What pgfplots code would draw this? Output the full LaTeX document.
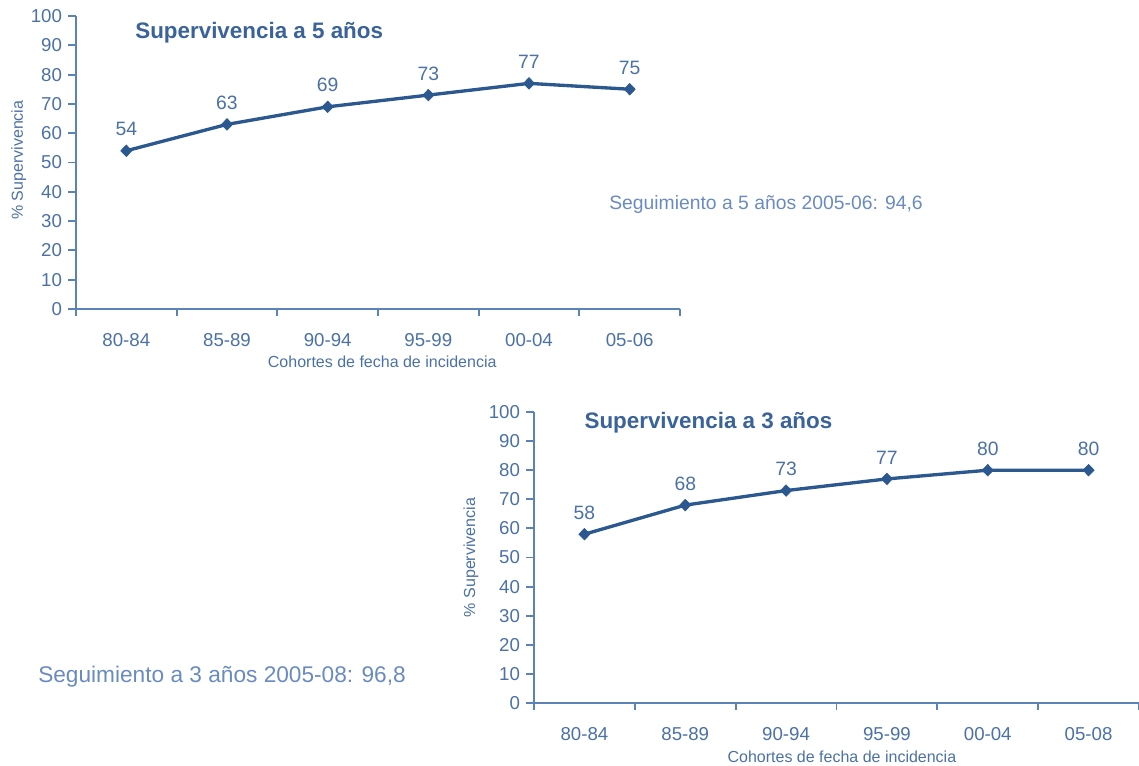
\documentclass[border=0pt]{standalone}
\usepackage{pgfplots}
\pgfplotsset{compat=1.18}
\usepackage{fontspec}
\setmainfont{Liberation Sans}
\definecolor{lineblue}{HTML}{2C5890}
\definecolor{axblue}{HTML}{5B83B8}
\definecolor{txtblue}{HTML}{4B71A5}
\definecolor{titblue}{HTML}{3A6399}
\definecolor{annblue}{HTML}{6A8BBF}
\pgfplotsset{
  survstyle/.style={
    scale only axis,
    xmin=0, xmax=6, ymin=0, ymax=100,
    axis x line*=bottom, axis y line*=left,
    axis line style={axblue, line width=1.4pt, -},
    tick align=outside,
    ytick={0,10,...,100},
    xtick={0.5,1.5,...,5.5},
    minor xtick={0,1,...,6},
    major tick length=6pt,
    minor tick length=5pt,
    major x tick style={draw=none},
    minor x tick style={axblue, line width=1.4pt},
    major y tick style={axblue, line width=1.4pt},
    /pgf/number format/assume math mode=true,
    tick label style={txtblue, font=\fontsize{14}{16}\selectfont},
    xticklabel style={yshift=-9pt},
    yticklabel style={xshift=-1pt},
    label style={txtblue, font=\fontsize{12}{14}\selectfont},
    nodes near coords,
    nodes near coords style={txtblue, font=\fontsize{14.5}{16}\selectfont, yshift=7.5pt},
    clip=false,
  },
  survline/.style={lineblue, line width=2.5pt, mark=diamond*, mark size=4.3pt,
    mark options={xscale=1.3, solid, fill=lineblue, line width=0.5pt}},
}
\begin{document}
\begin{tikzpicture}[x=0.75pt,y=0.75pt]
\path[use as bounding box] (0,0) rectangle (1139,766);
% Top chart: 5 years
\begin{axis}[survstyle,
  at={(57pt,342.75pt)}, anchor=south west,
  width=453pt, height=219.75pt,
  xticklabels={80-84,85-89,90-94,95-99,00-04,05-06},
  xlabel={Cohortes de fecha de incidencia},
  xlabel style={at={(axis description cs:0.507,0)}, anchor=center, yshift=-39.75pt},
  ylabel={\% Supervivencia},
  ylabel style={at={(axis description cs:-0.095,0.508)}, anchor=center},
]
\addplot[survline] coordinates {(0.5,54) (1.5,63) (2.5,69) (3.5,73) (4.5,77) (5.5,75)};
\node[titblue, font=\bfseries\fontsize{16.8}{19}\selectfont] at (axis cs:1.82,94.2) {Supervivencia a 5 años};
\end{axis}
% Bottom chart: 3 years
\begin{axis}[survstyle,
  at={(400.5pt,47.25pt)}, anchor=south west,
  width=453.75pt, height=218.25pt,
  xticklabels={80-84,85-89,90-94,95-99,00-04,05-08},
  xlabel={Cohortes de fecha de incidencia},
  xlabel style={at={(axis description cs:0.509,0)}, anchor=center, yshift=-40.5pt},
  ylabel={\% Supervivencia},
  ylabel style={at={(axis description cs:-0.104,0.50)}, anchor=center},
]
\addplot[survline] coordinates {(0.5,58) (1.5,68) (2.5,73) (3.5,77) (4.5,80) (5.5,80)};
\node[titblue, font=\bfseries\fontsize{16.8}{19}\selectfont] at (axis cs:1.73,96.2) {Supervivencia a 3 años};
\end{axis}
\node[anchor=west, annblue, inner sep=0pt, font=\fontsize{14.5}{17}\selectfont] at (609,561) {Seguimiento a 5 años 2005-06: 94,6};
\node[anchor=west, annblue, inner sep=0pt, font=\fontsize{17}{20}\selectfont] at (38,89) {Seguimiento a 3 años 2005-08: 96,8};
\end{tikzpicture}
\end{document}
